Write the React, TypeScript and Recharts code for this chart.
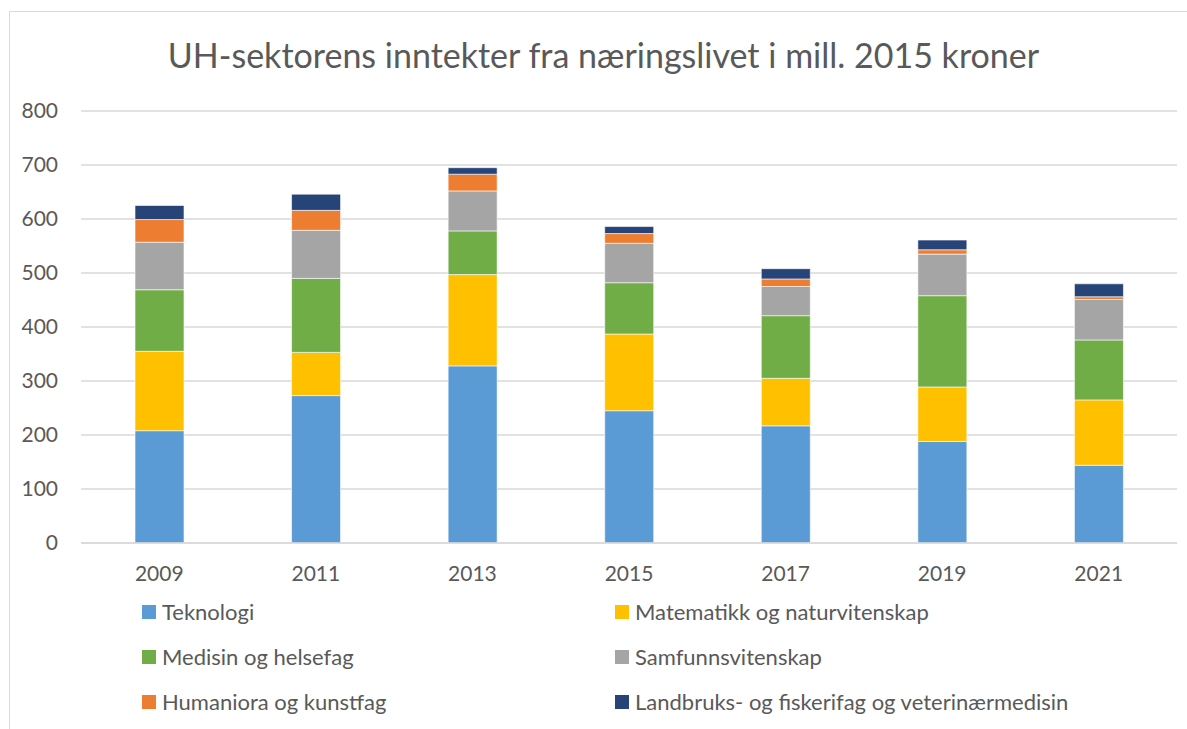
import { BarChart, Bar, XAxis, YAxis, CartesianGrid } from 'recharts';

const years = ['2009', '2011', '2013', '2015', '2017', '2019', '2021'];
const teknologi = [208, 273, 328, 245, 217, 188, 144];
const matematikk = [147, 80, 169, 142, 88, 101, 121];
const medisin = [114, 137, 81, 95, 116, 169, 111];
const samfunn = [88, 89, 74, 73, 54, 77, 75];
const humaniora = [42, 37, 31, 18, 14, 8, 5];
const landbruk = [26, 30, 12, 13, 19, 18, 24];
const yTicks = [0, 100, 200, 300, 400, 500, 600, 700, 800];

const series = [
  { key: 'tek', name: 'Teknologi', values: teknologi, color: '#5B9BD5' },
  { key: 'mat', name: 'Matematikk og naturvitenskap', values: matematikk, color: '#FFC000' },
  { key: 'med', name: 'Medisin og helsefag', values: medisin, color: '#70AD47' },
  { key: 'sam', name: 'Samfunnsvitenskap', values: samfunn, color: '#A5A5A5' },
  { key: 'hum', name: 'Humaniora og kunstfag', values: humaniora, color: '#ED7D31' },
  { key: 'land', name: 'Landbruks- og fiskerifag og veterinærmedisin', values: landbruk, color: '#264478' },
];

const data = years.map((year, i) => {
  const row: Record<string, string | number> = { year };
  series.forEach(s => { row[s.key] = s.values[i]; });
  return row;
});

const FONT = 'Lato, "Noto Sans", sans-serif';
const TEXT = '#595959';

export default function App() {
  return (
    <div style={{ position: 'absolute', left: 0, top: 0, width: 1187, height: 729, overflow: 'hidden', background: '#fff', fontFamily: FONT }}>
      <div style={{ position: 'absolute', left: 9, top: 11, width: 1200, height: 740, borderLeft: '1px solid #d9d9d9', borderTop: '1px solid #d9d9d9' }} />
      <BarChart
        width={1187}
        height={729}
        data={data}
        margin={{ top: 111, right: 10, bottom: 156, left: 21 }}
        style={{ position: 'absolute', left: 0, top: 0 }}
      >
        <CartesianGrid vertical={false} stroke="#d9d9d9" strokeWidth={1.4} />
        <XAxis
          dataKey="year"
          height={30}
          tickLine={false}
          tickSize={0}
          tickMargin={23}
          axisLine={{ stroke: '#d9d9d9', strokeWidth: 1.4 }}
          tick={{ fill: TEXT, fontSize: 21, fontFamily: FONT }}
        />
        <YAxis
          width={60}
          domain={[0, 800]}
          ticks={yTicks}
          axisLine={false}
          tickLine={false}
          tickSize={0}
          tickMargin={23}
          tick={{ fill: TEXT, fontSize: 21, fontFamily: FONT }}
        />
        {series.map(s => (
          <Bar key={s.key} dataKey={s.key} name={s.name} stackId="a" fill={s.color} barSize={49} stroke="#ffffff" strokeWidth={0.6} isAnimationActive={false} />
        ))}
      </BarChart>
      <svg width={1187} height={729} style={{ position: 'absolute', left: 0, top: 0, pointerEvents: 'none' }}>
        <text x={603.5} y={68} textAnchor="middle" fill={TEXT} fontSize={34} fontFamily={FONT}>
          UH-sektorens inntekter fra næringslivet i mill. 2015 kroner
        </text>
        {series.map((s, i) => {
          const col = i % 2;
          const row = Math.floor(i / 2);
          const sx = col === 0 ? 142 : 615;
          const top = 605 + row * 45;
          return (
            <g key={s.key}>
              <rect x={sx} y={top} width={14} height={14} fill={s.color} />
              <text x={sx + 20} y={top + 14.5} fill={TEXT} fontSize={22} fontFamily={FONT}>{s.name}</text>
            </g>
          );
        })}
      </svg>
    </div>
  );
}
